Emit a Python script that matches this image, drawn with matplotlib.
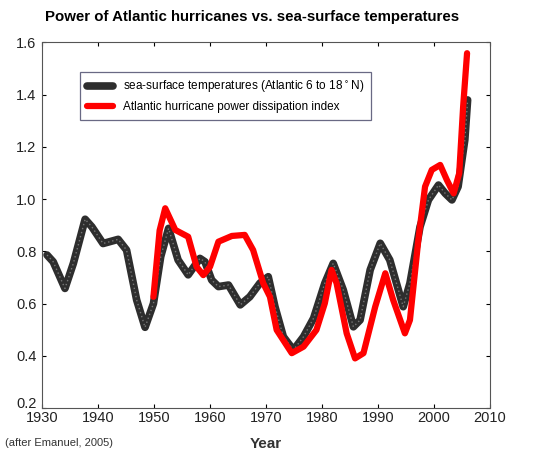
import numpy as np
import matplotlib.pyplot as plt
from matplotlib.transforms import offset_copy

# sea-surface temperature index (Atlantic 6-18N), read as year / value pairs
sst_years = [1930.9, 1932.0, 1934.1, 1935.6, 1937.7, 1938.9, 1940.9, 1943.6, 1945.1,
             1946.9, 1948.4, 1949.9, 1951.2, 1952.6, 1954.3, 1956.1, 1958.2, 1959.1,
             1960.3, 1961.5, 1963.3, 1965.4, 1967.1, 1968.9, 1970.4, 1971.6, 1973.1,
             1974.9, 1976.7, 1978.5, 1980.5, 1982.0, 1983.8, 1985.6, 1986.8, 1988.6,
             1990.4, 1992.1, 1994.5, 1995.7, 1997.5, 1999.0, 2000.8, 2002.0, 2003.2,
             2004.3, 2005.5, 2006.0]
sst_vals = [0.786, 0.760, 0.658, 0.754, 0.923, 0.894, 0.830, 0.846, 0.805,
            0.614, 0.509, 0.600, 0.780, 0.888, 0.767, 0.710, 0.773, 0.760,
            0.690, 0.665, 0.671, 0.595, 0.626, 0.678, 0.703, 0.588, 0.473,
            0.422, 0.473, 0.544, 0.678, 0.754, 0.652, 0.511, 0.537, 0.729,
            0.831, 0.767, 0.588, 0.678, 0.894, 0.997, 1.054, 1.022, 0.997,
            1.048, 1.227, 1.380]

# hurricane power dissipation index (scaled)
pdi_years = [1949.9, 1951.0, 1952.0, 1953.8, 1956.1, 1957.6, 1958.8, 1960.0, 1961.5,
             1963.9, 1966.2, 1967.7, 1969.5, 1970.7, 1971.9, 1974.6, 1976.7, 1979.0,
             1980.5, 1981.7, 1982.6, 1984.4, 1985.9, 1987.4, 1989.5, 1991.3, 1992.7,
             1994.8, 1995.7, 1997.2, 1998.4, 1999.6, 2001.1, 2002.3, 2003.5, 2004.5,
             2005.2, 2005.9]
pdi_vals = [0.626, 0.880, 0.965, 0.882, 0.856, 0.741, 0.709, 0.741, 0.837,
            0.859, 0.863, 0.805, 0.678, 0.626, 0.499, 0.410, 0.435, 0.499,
            0.601, 0.729, 0.678, 0.486, 0.390, 0.410, 0.588, 0.716, 0.614,
            0.486, 0.537, 0.844, 1.048, 1.112, 1.131, 1.073, 1.022, 1.099,
            1.354, 1.559]

x_ticks = np.arange(1930, 2011, 10)
y_ticks = np.arange(0.2, 1.61, 0.2)

FONT = ['Liberation Sans', 'DejaVu Sans']

fig = plt.figure(figsize=(5.42, 4.55), dpi=100)
ax = fig.add_axes([0.0775, 0.1033, 0.8266, 0.8033])

ax.plot(sst_years, sst_vals, color='#2e2e2e', lw=5.5, solid_joinstyle='round',
        solid_capstyle='round', label='sea-surface temperatures (Atlantic 6 to 18$^\\circ$N)')
ax.plot(sst_years, sst_vals, color='#777777', lw=1, ls=(0, (1, 2)))
ax.plot(pdi_years, pdi_vals, color='#ff0000', lw=4.5, solid_joinstyle='round',
        solid_capstyle='round', label='Atlantic hurricane power dissipation index')

ax.set_xlim(1930, 2010)
ax.set_ylim(0.2, 1.6)
ax.set_xticks(x_ticks)
ax.set_yticks(y_ticks)
ax.set_yticklabels([f'{v:.1f}' for v in y_ticks])
ax.tick_params(direction='in', length=3, width=0.8, top=True, right=True,
               labelsize=10.5, labelcolor='#222222', pad=2)
ax.tick_params(axis='y', pad=4)
for s in ax.spines.values():
    s.set_linewidth(0.8)
    s.set_color('#555555')
    s.set_linestyle((0, (1, 1)))

for lab in ax.get_xticklabels() + ax.get_yticklabels():
    lab.set_family(FONT)

# lift the lowest y label so it sits clear of the first year label
low = ax.get_yticklabels()[0]
low.set_transform(offset_copy(low.get_transform(), fig=fig, x=0, y=4, units='points'))

ax.set_xlabel('Year', fontsize=11, fontweight='bold', color='#333333', labelpad=9,
              family=FONT)

leg = ax.legend(loc='upper left', bbox_to_anchor=(0.072, 0.936),
                frameon=True, fancybox=False, handlelength=2.2, borderpad=0.6,
                labelspacing=0.5, prop={'family': FONT, 'size': 8.5})
leg.get_frame().set_edgecolor('#444466')
leg.get_frame().set_linewidth(0.9)

fig.text(0.465, 0.962, 'Power of Atlantic hurricanes vs. sea-surface temperatures',
         ha='center', va='center', fontsize=10.8, fontweight='bold', family=FONT)
fig.text(0.01, 0.026, '(after Emanuel, 2005)', ha='left', va='center', fontsize=8,
         color='#333333', family=FONT)

fig.savefig('out.png', dpi=100)
